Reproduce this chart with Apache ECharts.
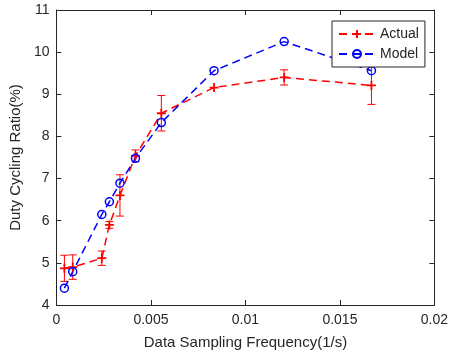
<!DOCTYPE html>
<html>
<head>
<meta charset="utf-8">
<script src="https://cdn.jsdelivr.net/npm/echarts@6/dist/echarts.min.js"></script>
<style>html,body{margin:0;padding:0;background:#fff;}#c{width:451px;height:358px;}</style>
</head>
<body>
<div id="c"></div>
<script>
const freq = [0.00042, 0.00086, 0.0024, 0.0028, 0.00336, 0.00418, 0.00555, 0.00834, 0.01205, 0.01667];
const actual = [4.87, 4.90, 5.11, 5.90, 6.60, 7.54, 8.55, 9.16, 9.40, 9.21];
const actualErr = [0.31, 0.29, 0.17, 0.08, 0.49, 0.14, 0.42, 0.0, 0.18, 0.45];
const model = [4.40, 4.79, 6.15, 6.45, 6.89, 7.48, 8.33, 9.56, 10.25, 9.56];
const xTicks = [0, 0.005, 0.01, 0.015, 0.02];
const yTicks = [4, 5, 6, 7, 8, 9, 10, 11];

const txt = '#262626';
const font = 'Liberation Sans, Arial, Helvetica, sans-serif';
const chart = echarts.init(document.getElementById('c'), null, {renderer: 'canvas'});

const actualData = freq.map((f, i) => [f, actual[i]]);
const modelData = freq.map((f, i) => [f, model[i]]);
const errData = freq.map((f, i) => [f, actual[i] - actualErr[i], actual[i] + actualErr[i]]).filter((d, i) => actualErr[i] > 0);

const plusPath = 'path://M0,5 L10,5 M5,0 L5,10';

function baseX(pos, show) {
  return {
    type: 'value', position: pos, min: xTicks[0], max: xTicks[xTicks.length - 1], interval: xTicks[1] - xTicks[0],
    axisLine: {show: true, onZero: false, lineStyle: {color: txt, width: 1}},
    axisTick: {show: true, inside: true, length: 5, lineStyle: {color: txt}},
    splitLine: {show: false},
    axisLabel: {show: show, color: txt, fontSize: 14, fontFamily: font, margin: 8,
      formatter: v => String(parseFloat(v.toFixed(4)))}
  };
}
function baseY(pos, show) {
  return {
    type: 'value', position: pos, min: yTicks[0], max: yTicks[yTicks.length - 1], interval: yTicks[1] - yTicks[0],
    axisLine: {show: true, onZero: false, lineStyle: {color: txt, width: 1}},
    axisTick: {show: true, inside: true, length: 5, lineStyle: {color: txt}},
    splitLine: {show: false},
    axisLabel: {show: show, color: txt, fontSize: 14, fontFamily: font, margin: 7}
  };
}

const x0 = baseX('bottom', true);
x0.name = 'Data Sampling Frequency(1/s)';
x0.nameLocation = 'middle';
x0.nameGap = 30;
x0.nameTextStyle = {color: txt, fontSize: 15, fontFamily: font};
const y0 = baseY('left', true);
y0.name = 'Duty Cycling Ratio(%)';
y0.nameLocation = 'middle';
y0.nameGap = 25;
y0.nameTextStyle = {color: txt, fontSize: 15, fontFamily: font};

chart.setOption({
  animation: false,
  backgroundColor: '#fff',
  grid: {left: 56, right: 14, top: 10, bottom: 53, containLabel: false},
  xAxis: [x0, baseX('top', false)],
  yAxis: [y0, baseY('right', false)],
  legend: {
    data: ['Actual', 'Model'],
    orient: 'vertical',
    left: 332, top: 21,
    padding: [6, 6, 6, 6],
    itemGap: 6,
    itemWidth: 36, itemHeight: 10,
    backgroundColor: '#fff',
    borderColor: txt, borderWidth: 1,
    textStyle: {color: txt, fontSize: 14, fontFamily: font}
  },
  series: [
    {
      name: 'Actual', type: 'line', data: actualData,
      symbol: plusPath, symbolSize: 9,
      lineStyle: {color: '#ff0000', width: 1.5, type: [8, 5]},
      itemStyle: {color: '#ff0000', borderColor: '#ff0000', borderWidth: 1.8},
      z: 3
    },
    {
      name: 'Model', type: 'line', data: modelData,
      symbol: 'circle', symbolSize: 8,
      lineStyle: {color: '#0000ff', width: 1.5, type: [8, 5]},
      itemStyle: {color: 'rgba(0,0,0,0)', borderColor: '#0000ff', borderWidth: 1.5},
      z: 3
    },
    {
      name: 'err', type: 'custom', data: errData,
      renderItem: function (params, api) {
        const x = api.value(0);
        const lo = api.coord([x, api.value(1)]);
        const hi = api.coord([x, api.value(2)]);
        const w = 4;
        const st = {stroke: '#ff0000', lineWidth: 1};
        return {
          type: 'group',
          children: [
            {type: 'line', shape: {x1: lo[0], y1: lo[1], x2: hi[0], y2: hi[1]}, style: st},
            {type: 'line', shape: {x1: lo[0] - w, y1: lo[1], x2: lo[0] + w, y2: lo[1]}, style: st},
            {type: 'line', shape: {x1: hi[0] - w, y1: hi[1], x2: hi[0] + w, y2: hi[1]}, style: st}
          ]
        };
      },
      z: 2
    }
  ]
});
</script>
</body>
</html>
